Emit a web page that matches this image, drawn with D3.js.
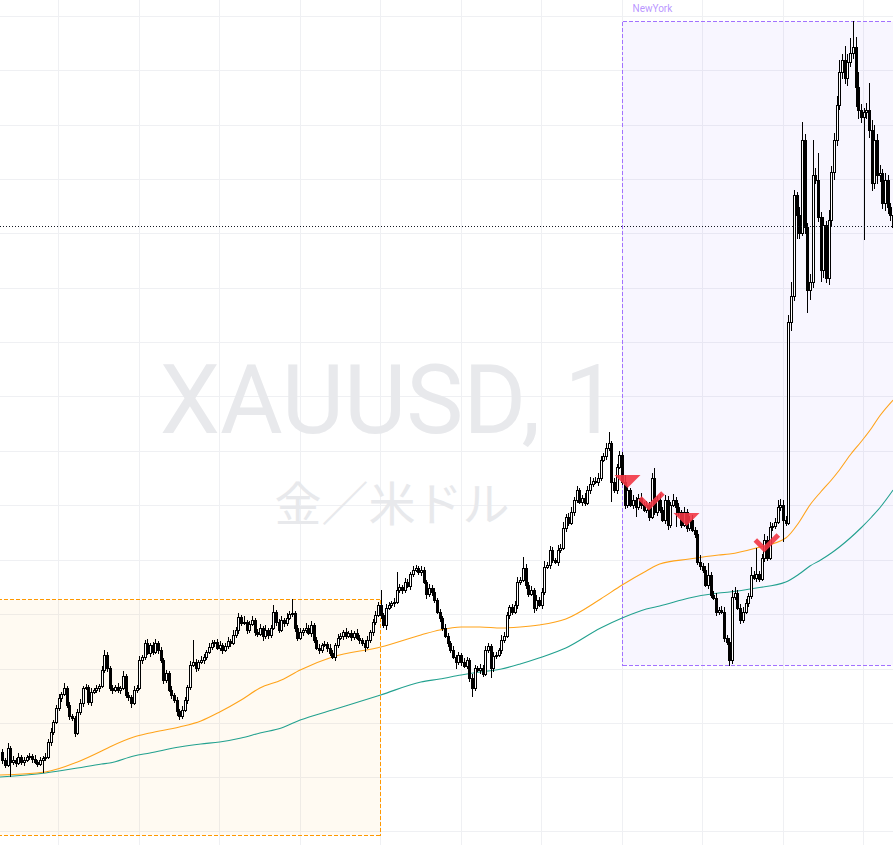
<!DOCTYPE html>
<html><head><meta charset="utf-8">
<script src="https://cdn.jsdelivr.net/npm/d3@7"></script>
<style>html,body{margin:0;padding:0;background:#fff;overflow:hidden}</style>
</head><body>
<svg id="c" width="893" height="845"></svg>
<script>
// ---------- data ----------
const symbolText = "XAUUSD, 1";
const descText = "金／米ドル";
const firstOpen = 2022.40;
const closes = [
2022.00,2021.75,2022.60,2021.90,2022.00,2021.85,2022.15,2021.90,2022.00,2022.15,
2022.20,2022.05,2021.90,2021.80,2022.00,2022.10,2022.15,2022.90,2023.40,2023.90,
2024.60,2025.10,2025.30,2025.60,2024.75,2024.20,2024.10,2023.35,2024.40,2024.85,
2025.60,2025.65,2024.90,2025.40,2025.50,2025.60,2025.70,2026.50,2027.25,2026.60,
2025.60,2025.50,2025.65,2025.50,2025.60,2026.20,2025.25,2025.15,2024.85,2025.50,
2025.60,2027.00,2027.15,2027.85,2027.35,2027.75,2027.40,2027.85,2027.50,2027.00,
2026.00,2026.35,2025.50,2025.25,2025.00,2024.45,2024.20,2024.50,2025.00,2025.65,
2026.75,2026.90,2026.60,2026.90,2027.00,2027.15,2027.40,2027.65,2027.85,2027.90,
2027.60,2027.75,2027.50,2027.70,2027.95,2027.85,2028.25,2028.50,2029.15,2028.85,
2028.90,2028.50,2028.80,2029.00,2028.40,2028.30,2028.60,2028.20,2028.50,2028.25,
2028.60,2029.40,2028.90,2028.50,2029.00,2028.85,2029.10,2029.30,2029.35,2028.60,
2028.10,2028.40,2028.50,2028.60,2028.35,2028.75,2028.00,2027.60,2027.50,2027.75,
2027.80,2027.60,2027.35,2027.15,2027.75,2028.10,2028.20,2028.40,2028.20,2028.35,
2028.15,2028.35,2028.10,2028.00,2027.85,2027.65,2028.00,2028.40,2028.90,2029.25,
2029.75,2029.25,2028.75,2029.60,2029.75,2029.85,2029.90,2030.50,2030.65,2030.50,
2030.90,2030.70,2031.30,2031.50,2031.60,2031.40,2031.50,2030.90,2030.30,2030.60,
2030.40,2030.00,2029.40,2029.10,2028.60,2028.20,2027.85,2027.50,2027.15,2026.90,
2027.25,2026.90,2026.70,2027.00,2026.10,2025.60,2026.60,2026.50,2026.60,2026.30,
2027.50,2027.70,2026.60,2027.20,2027.25,2027.50,2028.00,2028.20,2029.25,2029.65,
2029.40,2029.75,2030.90,2031.00,2031.60,2030.75,2030.30,2030.50,2029.60,2030.00,
2029.75,2030.40,2031.65,2031.75,2032.50,2032.00,2031.90,2032.50,2032.60,2033.60,
2034.15,2033.85,2034.40,2035.00,2035.50,2034.90,2035.10,2034.85,2035.50,2035.80,
2035.95,2035.90,2036.10,2037.00,2037.20,2037.60,2037.85,2035.90,2035.50,2036.65,
2037.25,2035.90,2034.75,2035.50,2034.75,2035.00,2034.65,2035.10,2034.75,2034.50,
2034.75,2034.15,2036.10,2034.40,2035.00,2034.50,2034.00,2035.00,2033.75,2034.75,
2035.00,2034.65,2034.40,2033.75,2034.40,2033.60,2034.00,2033.50,2033.30,2031.90,
2031.70,2031.50,2030.75,2031.25,2030.25,2030.10,2029.40,2029.50,2029.40,2028.10,
2027.90,2027.00,2030.15,2030.35,2029.60,2029.00,2029.40,2029.85,2030.20,2031.25,
2031.10,2031.30,2031.05,2032.10,2033.00,2032.10,2033.65,2033.70,2033.90,2034.65,
2034.75,2034.00,2033.85,2043.90,2045.20,2050.25,2049.25,2048.35,2053.00,2048.65,
2045.50,2045.90,2051.25,2051.00,2049.15,2046.50,2048.75,2046.10,2049.00,2051.40,
2053.00,2054.75,2056.40,2057.00,2056.10,2056.90,2057.35,2057.65,2055.65,2054.50,
2054.15,2054.40,2054.50,2053.50,2050.85,2053.00,2051.25,2051.35,2049.85,2051.00,
2049.65,2049.25,2048.65];
const wickUp = [
0.15,0.10,0.25,0.10,0.20,0.10,0.20,0.10,0.15,0.10,
0.15,0.10,0.20,0.10,0.15,0.10,0.20,0.15,0.20,0.10,
0.15,0.20,0.10,0.25,0.10,0.15,0.10,0.10,0.15,0.20,
0.10,0.15,0.10,0.20,0.10,0.15,0.10,0.20,0.25,0.15,
0.10,0.15,0.10,0.20,0.10,0.25,0.10,0.15,0.10,0.20,
0.15,0.20,0.10,0.15,0.20,0.10,0.15,0.20,0.10,0.15,
0.10,0.15,0.10,0.20,0.10,0.15,0.10,0.20,0.15,0.10,
0.20,1.10,0.15,0.10,0.20,0.15,0.10,0.20,0.15,0.10,
0.15,0.20,0.10,0.15,0.20,0.10,0.25,0.15,0.20,0.10,
0.30,0.10,0.15,0.20,0.10,0.15,0.20,0.10,0.25,0.10,
0.15,0.35,0.10,0.15,0.20,0.10,0.25,0.15,0.68,0.10,
0.15,0.20,0.10,0.25,0.15,0.20,0.10,0.15,0.20,0.10,
0.15,0.10,0.20,0.15,0.10,0.20,0.15,0.10,0.20,0.10,
0.15,0.10,0.20,0.15,0.10,0.15,0.20,0.10,0.15,0.20,
0.15,0.75,0.10,0.20,0.15,0.10,0.20,0.90,0.15,0.10,
0.20,0.15,0.10,0.20,0.15,0.10,0.20,0.15,0.10,0.20,
0.15,0.20,0.10,0.15,0.10,0.20,0.15,0.10,0.20,0.10,
0.15,0.10,0.20,0.15,0.10,0.20,0.15,0.10,0.20,0.15,
0.20,0.15,0.10,0.20,0.15,0.10,0.25,0.20,0.15,0.10,
0.15,0.20,0.25,0.15,0.55,0.20,0.15,0.20,0.10,0.25,
0.15,0.20,0.30,0.15,0.20,0.15,0.10,0.25,0.20,0.30,
0.15,0.20,0.25,0.15,0.20,0.10,0.15,0.25,0.20,0.35,
0.15,0.20,0.25,0.20,0.15,0.25,0.55,0.10,0.20,0.15,
0.20,0.15,0.35,0.20,0.10,0.25,0.15,0.20,0.25,0.15,
0.20,0.15,0.25,0.50,0.20,0.30,0.15,0.25,0.20,0.15,
0.30,0.15,0.20,0.10,0.25,0.15,0.20,0.25,0.15,0.20,
0.35,0.15,0.20,0.60,0.15,0.20,0.25,0.15,0.20,0.25,
0.15,0.20,0.35,0.30,0.15,0.20,0.25,0.20,0.15,0.40,
0.20,1.30,0.15,0.20,0.30,0.20,0.25,0.15,0.20,0.35,
0.30,0.25,0.20,0.35,0.70,0.25,0.15,0.40,0.90,0.30,
0.20,0.40,1.75,0.35,1.35,0.25,0.40,0.20,0.50,0.30,
0.35,0.45,0.60,0.30,0.70,0.40,0.75,1.28,0.50,0.75,
0.30,0.20,0.35,1.35,0.50,0.75,0.30,0.40,0.20,0.35,
0.25,0.20,0.15];
const wickDn = [
0.20,0.15,0.10,0.75,0.15,0.20,0.10,0.15,0.20,0.10,
0.15,0.20,0.10,0.15,0.10,0.65,0.15,0.10,0.20,0.15,
0.10,0.15,0.20,0.10,0.15,0.20,0.15,0.20,0.10,0.15,
0.20,0.10,0.15,0.20,0.10,0.15,0.20,0.10,0.15,0.20,
0.15,0.20,0.10,0.15,0.20,0.10,0.15,0.20,0.25,0.10,
0.15,0.10,0.20,0.15,0.10,0.20,0.15,0.10,0.20,0.15,
0.20,0.15,0.10,0.20,0.15,0.25,0.20,0.15,0.10,0.20,
0.15,0.10,0.20,0.15,0.10,0.20,0.15,0.10,0.15,0.20,
0.10,0.15,0.20,0.10,0.15,0.20,0.10,0.15,0.20,0.15,
0.10,0.20,0.15,0.10,0.20,0.15,0.10,0.25,0.15,0.20,
0.15,0.10,0.20,0.15,0.10,0.20,0.15,0.10,0.15,0.20,
0.15,0.10,0.20,0.15,0.10,0.20,0.15,0.10,0.20,0.15,
0.10,0.20,0.15,0.10,0.20,0.15,0.10,0.20,0.15,0.10,
0.20,0.15,0.10,0.20,0.15,0.25,0.10,0.15,0.20,0.15,
0.10,0.20,0.15,0.25,0.10,0.15,0.20,0.10,0.15,0.20,
0.15,0.10,0.20,0.15,0.10,0.15,0.20,0.10,0.25,0.15,
0.20,0.15,0.10,0.20,0.15,0.10,0.20,0.15,0.10,0.35,
0.15,0.20,0.10,0.15,0.20,0.45,0.15,0.10,0.20,0.15,
0.10,0.15,0.50,0.20,0.15,0.10,0.20,0.15,0.10,0.20,
0.15,0.10,0.20,0.15,0.10,0.20,0.15,0.10,0.25,0.15,
0.10,0.20,0.15,0.10,0.20,0.15,0.10,0.20,0.15,0.10,
0.20,0.15,0.10,0.20,0.15,0.10,0.20,0.15,0.10,0.20,
0.15,0.10,0.20,0.15,0.10,0.20,0.15,1.00,0.15,0.20,
0.10,0.15,0.20,0.15,0.10,0.20,0.50,0.15,0.20,0.10,
0.15,0.20,0.10,0.15,0.20,0.15,0.10,0.20,0.25,0.15,
0.10,1.00,0.20,0.15,0.10,0.20,0.15,0.10,0.20,0.15,
0.20,0.15,0.10,0.20,0.15,0.10,0.20,0.15,0.10,0.20,
0.15,0.30,0.20,0.15,0.10,0.20,0.15,0.10,0.20,0.15,
0.10,0.20,0.15,0.10,0.20,0.15,0.10,0.20,0.15,0.10,
0.20,1.10,0.15,0.10,0.45,0.25,1.20,0.30,0.15,0.35,
1.15,0.50,0.30,0.20,0.25,0.60,0.40,0.25,0.35,0.30,
0.40,0.30,0.25,0.35,0.30,0.40,0.25,0.30,1.00,0.45,
0.30,6.15,0.35,0.40,0.40,0.30,0.45,0.35,0.30,0.40,
0.35,0.30,0.20];

// time grid (bar index of each 30-minute tick) and labels
const timeTickBars = [21,51,81,111,141,171,201,231,261,291,321];
const timeLabels = ["18:30","19:00","19:30","20:00","20:30","21:00","21:30","22:00","22:30","23:00","23:30"];
// price grid
const priceTicks = [2059.18,2056.46,2053.74,2051.02,2048.30,2045.59,2042.87,2040.15,2037.43,2034.71,2031.99,2029.27,2026.55,2023.83,2021.11,2018.40];

// moving averages sampled at bars
const maBars = [-1,16,28,37,40,49,55,66,74,81,89,96,104,111,123,141,156,163,171,178,186,193,200,210,223,231,240,245,256,267,271,281,292,297,301,305,309,312,316,320,324,327,332];
const maFast = [2021.25,2021.40,2021.90,2022.45,2022.65,2023.15,2023.35,2023.65,2023.95,2024.40,2025.00,2025.60,2026.00,2026.50,2027.15,2027.65,2028.25,2028.50,2028.65,2028.65,2028.60,2028.65,2028.75,2029.05,2030.05,2030.75,2031.45,2031.80,2032.05,2032.25,2032.30,2032.60,2033.10,2033.90,2034.75,2035.40,2036.00,2036.50,2037.25,2037.90,2038.60,2039.20,2040.00];
const maSlow = [2021.15,2021.35,2021.60,2021.80,2021.85,2022.20,2022.35,2022.65,2022.80,2022.90,2023.10,2023.35,2023.60,2024.00,2024.50,2025.25,2025.90,2026.05,2026.25,2026.40,2026.55,2026.80,2027.10,2027.60,2028.60,2029.10,2029.55,2029.70,2030.10,2030.35,2030.40,2030.60,2030.90,2031.30,2031.70,2032.00,2032.35,2032.65,2033.10,2033.60,2034.15,2034.60,2035.50];

// sessions
const sessionNames = ["London","NewYork"];
const sessionStart = [-80,231];
const sessionEnd = [141,360];
const sessionHigh = [2030.03,2058.93];
const sessionLow = [2018.20,2026.70];

// signals
const signalBars = [233,241,255,284];
const signalPrices = [2036.25,2034.65,2034.35,2032.55];
const signalTypes = ["triangle","check","triangle","check"];

// ---------- drawing ----------
const W = 893, H = 845;
const svg = d3.select("#c");
const x = d3.scaleLinear().domain([0, 332]).range([2.36, 893.1]);
const y = d3.scaleLinear().domain([2060 - H/20, 2060]).range([H, 0]);
const crisp = v => Math.floor(v) + 0.5;

svg.append("rect").attr("width", W).attr("height", H).attr("fill", "#ffffff");

// grid
const grid = svg.append("g").attr("stroke", "#eff0f3").attr("stroke-width", 1).attr("shape-rendering", "crispEdges");
grid.selectAll("line.v").data(timeTickBars).join("line").attr("class","v")
  .attr("x1", d => crisp(x(d))).attr("x2", d => crisp(x(d))).attr("y1", 0).attr("y2", H);
grid.selectAll("line.h").data(priceTicks).join("line").attr("class","h")
  .attr("y1", d => crisp(y(d))).attr("y2", d => crisp(y(d))).attr("x1", 0).attr("x2", W);

// watermark
const wm = svg.append("g").attr("fill", "#e8e9ec").attr("text-anchor", "middle");
wm.append("text").attr("x", 389).attr("y", 433).attr("font-family", "Roboto, 'Noto Sans', sans-serif")
  .attr("font-size", 96).text(symbolText);
wm.append("text").attr("x", 392).attr("y", 521).attr("font-family", "'Noto Sans CJK JP', sans-serif")
  .attr("font-size", 47).text(descText);

// sessions
const sessFill = ["rgba(255,152,0,0.05)", "rgba(124,77,255,0.05)"];
const sessStroke = ["#ff9800", "#a272ff"];
sessionNames.forEach((nm, k) => {
  const x0 = crisp(x(sessionStart[k])), x1 = crisp(x(sessionEnd[k]));
  const y0 = crisp(y(sessionHigh[k])), y1 = crisp(y(sessionLow[k]));
  const g = svg.append("g");
  g.append("rect").attr("x", x0).attr("y", y0).attr("width", x1 - x0).attr("height", y1 - y0)
    .attr("fill", sessFill[k]);
  const edges = [[x0, y0, x1, y0], [x0, y1, x1, y1], [x0, y0, x0, y1], [x1, y0, x1, y1]];
  g.selectAll("line").data(edges).join("line")
    .attr("x1", d => d[0]).attr("y1", d => d[1]).attr("x2", d => d[2]).attr("y2", d => d[3])
    .attr("stroke", sessStroke[k]).attr("stroke-width", 1).attr("stroke-dasharray", "4,2")
    .attr("shape-rendering", "crispEdges");
  if (x0 + 10 >= 0) {
    g.append("text").attr("x", x0 + 10).attr("y", y0 - 10).attr("font-family", "Roboto, sans-serif")
      .attr("font-size", 10).attr("fill", sessStroke[k]).attr("fill-opacity", 0.75).text(nm);
  }
});

// moving averages
const maLine = vals => d3.line().x((d, i) => x(maBars[i])).y(d => y(d)).curve(d3.curveMonotoneX)(vals);
svg.append("path").attr("d", maLine(maSlow)).attr("fill", "none").attr("stroke", "#22a18f").attr("stroke-width", 1.1);
svg.append("path").attr("d", maLine(maFast)).attr("fill", "none").attr("stroke", "#ffa31a").attr("stroke-width", 1.1);

// candles
const bars = closes.map((c, i) => {
  const o = i ? closes[i - 1] : firstOpen;
  return { i, o, c, h: Math.max(o, c) + wickUp[i], l: Math.min(o, c) - wickDn[i] };
});
const cg = svg.append("g").attr("shape-rendering", "crispEdges");
cg.selectAll("line").data(bars).join("line")
  .attr("x1", d => Math.round(x(d.i)) + 0.5).attr("x2", d => Math.round(x(d.i)) + 0.5)
  .attr("y1", d => y(d.h)).attr("y2", d => y(d.l)).attr("stroke", "#000").attr("stroke-width", 1);
cg.selectAll("rect").data(bars).join("rect")
  .attr("x", d => Math.round(x(d.i)) - 0.5).attr("width", 2)
  .attr("y", d => Math.round(y(Math.max(d.o, d.c))) + 0.5)
  .attr("height", d => Math.max(0.01, Math.round(Math.abs(y(d.o) - y(d.c)))))
  .attr("fill", d => d.c >= d.o ? "#ffffff" : "#000000")
  .attr("stroke", "#000").attr("stroke-width", 1);

// signals
const sg = svg.append("g");
signalBars.forEach((b, k) => {
  const px = x(b), py = y(signalPrices[k]);
  if (signalTypes[k] === "triangle") {
    sg.append("path").attr("d", "M-13,0L13,0L0,13Z").attr("transform", `translate(${px},${py})`)
      .attr("fill", "#f23645").attr("fill-opacity", 0.9);
  } else {
    sg.append("path").attr("d", "M-9,-9L0,0L14,-14").attr("transform", `translate(${px},${py})`)
      .attr("fill", "none").attr("stroke", "#f23645").attr("stroke-opacity", 0.9).attr("stroke-width", 5);
  }
});

// last price dotted line
const last = closes[closes.length - 1];
svg.append("line").attr("x1", 0).attr("x2", W).attr("y1", crisp(y(last))).attr("y2", crisp(y(last)))
  .attr("stroke", "#131722").attr("stroke-width", 1).attr("stroke-dasharray", "1,2").attr("shape-rendering", "crispEdges");
</script>
</body></html>
